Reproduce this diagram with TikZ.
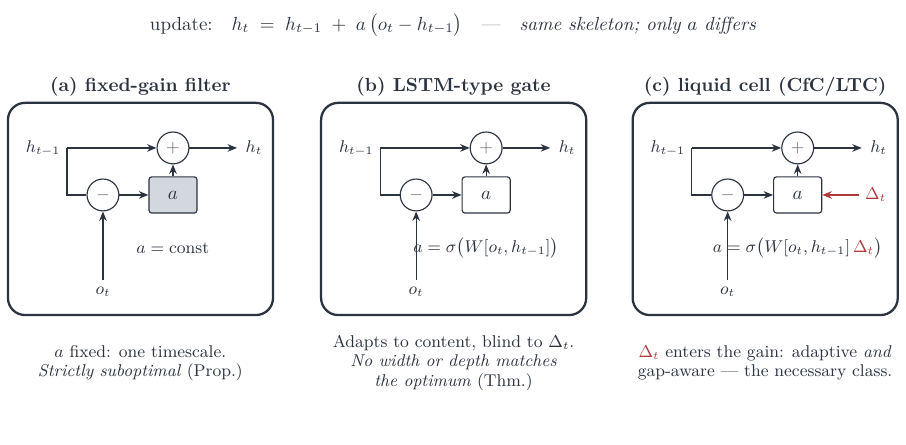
\documentclass[tikz,border=0pt]{standalone}
\usepackage{amsmath,amssymb}
\usepackage{xcolor}
\usepackage{tikz}
\usetikzlibrary{positioning,arrows.meta,calc}

\definecolor{ink}{HTML}{2B3340}
\definecolor{gainfill}{HTML}{D3D8DE}
\definecolor{deltared}{HTML}{B03A3A}
\newcommand{\capsize}{\small\setlength{\baselineskip}{10.2pt}}

\begin{document}
\begin{tikzpicture}[
    panel/.style={draw=ink, line width=1.2pt, rounded corners=9pt, minimum width=4.91cm, minimum height=3.93cm},
    junction/.style={draw=ink, circle, line width=0.6pt, minimum size=0.59cm, inner sep=0pt, fill=white, text=ink!70, font=\small},
    gain/.style={draw=ink, rounded corners=1.5pt, line width=0.6pt, minimum width=0.89cm, minimum height=0.67cm, fill=white, text=ink},
    wire/.style={draw=ink, line width=0.6pt},
    arrow/.style={->, draw=ink, line width=0.6pt},
    title/.style={font=\bfseries, text=ink},
    caption/.style={font=\capsize, align=center, text=ink},
    lbl/.style={text=ink, font=\small},
    >={Stealth[length=5pt,width=4pt]}
]
\useasboundingbox (0,0) rectangle (16.78,-8.24);

% Shared update rule (top)
\node[text=ink] (rule) at (8.39,-0.47) {update:\quad $h_t \;=\; h_{t-1} \;+\; a\,\bigl(o_t - h_{t-1}\bigr)$\quad {\color{ink!60}---}\quad \textit{same skeleton; only $a$ differs}};

% (a) Fixed-gain filter
\node[title] at (2.6,-1.6) {(a) fixed-gain filter};
\node[panel] (apanel) at (2.602,-3.87) {};
\coordinate (ain) at (1.24,-2.74);
\node[lbl, anchor=east, inner sep=1pt] (ahprev) at (1.16,-2.74) {$h_{t-1}$};
\node[junction] (aplus) at (3.204,-2.74) {$+$};
\node[junction] (aminus) at (1.907,-3.611) {$-$};
\node[gain, fill=gainfill] (again) at (3.204,-3.611) {$a$};
\coordinate (aout) at (4.39,-2.74);
\node[lbl, right=1pt of aout] (aht) {$h_t$};
\node[lbl] (aobs) at (1.907,-5.4) {$o_t$};
\node[lbl] (aeq) at (3.2,-4.6) {$a = \mathrm{const}$};

\draw[arrow] (ain) -- (aplus);
\draw[wire] (ain) |- (aminus);
\draw[arrow] (aminus) -- (again);
\draw[arrow] (again) -- (aplus);
\draw[arrow] (aplus) -- (aout);
\draw[arrow] (aobs) -- (aminus);

\node[caption] (acap) at (2.6,-6.72) {$a$ fixed: one timescale.\\\textit{Strictly suboptimal} (Prop.)};

% (b) LSTM-type gate
\begin{scope}[xshift=5.8cm]
\node[title] at (2.6,-1.6) {(b) LSTM-type gate};
\node[panel] (bpanel) at (2.602,-3.87) {};
\coordinate (bin) at (1.24,-2.74);
\node[lbl, anchor=east, inner sep=1pt] (bhprev) at (1.16,-2.74) {$h_{t-1}$};
\node[junction] (bplus) at (3.204,-2.74) {$+$};
\node[junction] (bminus) at (1.907,-3.611) {$-$};
\node[gain] (bgain) at (3.204,-3.611) {$a$};
\coordinate (bout) at (4.39,-2.74);
\node[lbl, right=1pt of bout] (bht) {$h_t$};
\node[lbl] (bobs) at (1.907,-5.4) {$o_t$};
\node[lbl] (beq) at (3.2,-4.6) {$a = \sigma\bigl(W[o_t, h_{t-1}]\bigr)$};

\draw[arrow] (bin) -- (bplus);
\draw[wire] (bin) |- (bminus);
\draw[arrow] (bminus) -- (bgain);
\draw[arrow] (bgain) -- (bplus);
\draw[arrow] (bplus) -- (bout);
\draw[arrow] (bobs) -- (bminus);

\node[caption] (bcap) at (2.6,-6.72) {Adapts to content, blind to $\Delta_t$.\\\textit{No width or depth matches}\\\textit{the optimum} (Thm.)};
\end{scope}

% (c) Liquid cell
\begin{scope}[xshift=11.57cm]
\node[title] at (2.6,-1.6) {(c) liquid cell (CfC/LTC)};
\node[panel] (cpanel) at (2.602,-3.87) {};
\coordinate (cin) at (1.24,-2.74);
\node[lbl, anchor=east, inner sep=1pt] (chprev) at (1.16,-2.74) {$h_{t-1}$};
\node[junction] (cplus) at (3.204,-2.74) {$+$};
\node[junction] (cminus) at (1.907,-3.611) {$-$};
\node[gain] (cgain) at (3.204,-3.611) {$a$};
\coordinate (cout) at (4.39,-2.74);
\node[lbl, right=1pt of cout] (cht) {$h_t$};
\node[lbl, text=deltared, anchor=west] (cdelta) at (4.33,-3.611) {$\Delta_t$};
\node[lbl] (cobs) at (1.907,-5.4) {$o_t$};
\node[lbl] (ceq) at (3.2,-4.6) {$a = \sigma\bigl(W[o_t, h_{t-1}]\,{\color{deltared}\Delta_t}\bigr)$};

\draw[arrow] (cin) -- (cplus);
\draw[wire] (cin) |- (cminus);
\draw[arrow] (cminus) -- (cgain);
\draw[arrow] (cgain) -- (cplus);
\draw[arrow] (cplus) -- (cout);
\draw[arrow] (cobs) -- (cminus);
\draw[arrow, draw=deltared] (cdelta) -- (cgain);

\node[caption] (ccap) at (2.6,-6.72) {{\color{deltared}$\Delta_t$} enters the gain: adaptive \textit{and}\\gap-aware --- the necessary class.};
\end{scope}

\end{tikzpicture}
\end{document}
